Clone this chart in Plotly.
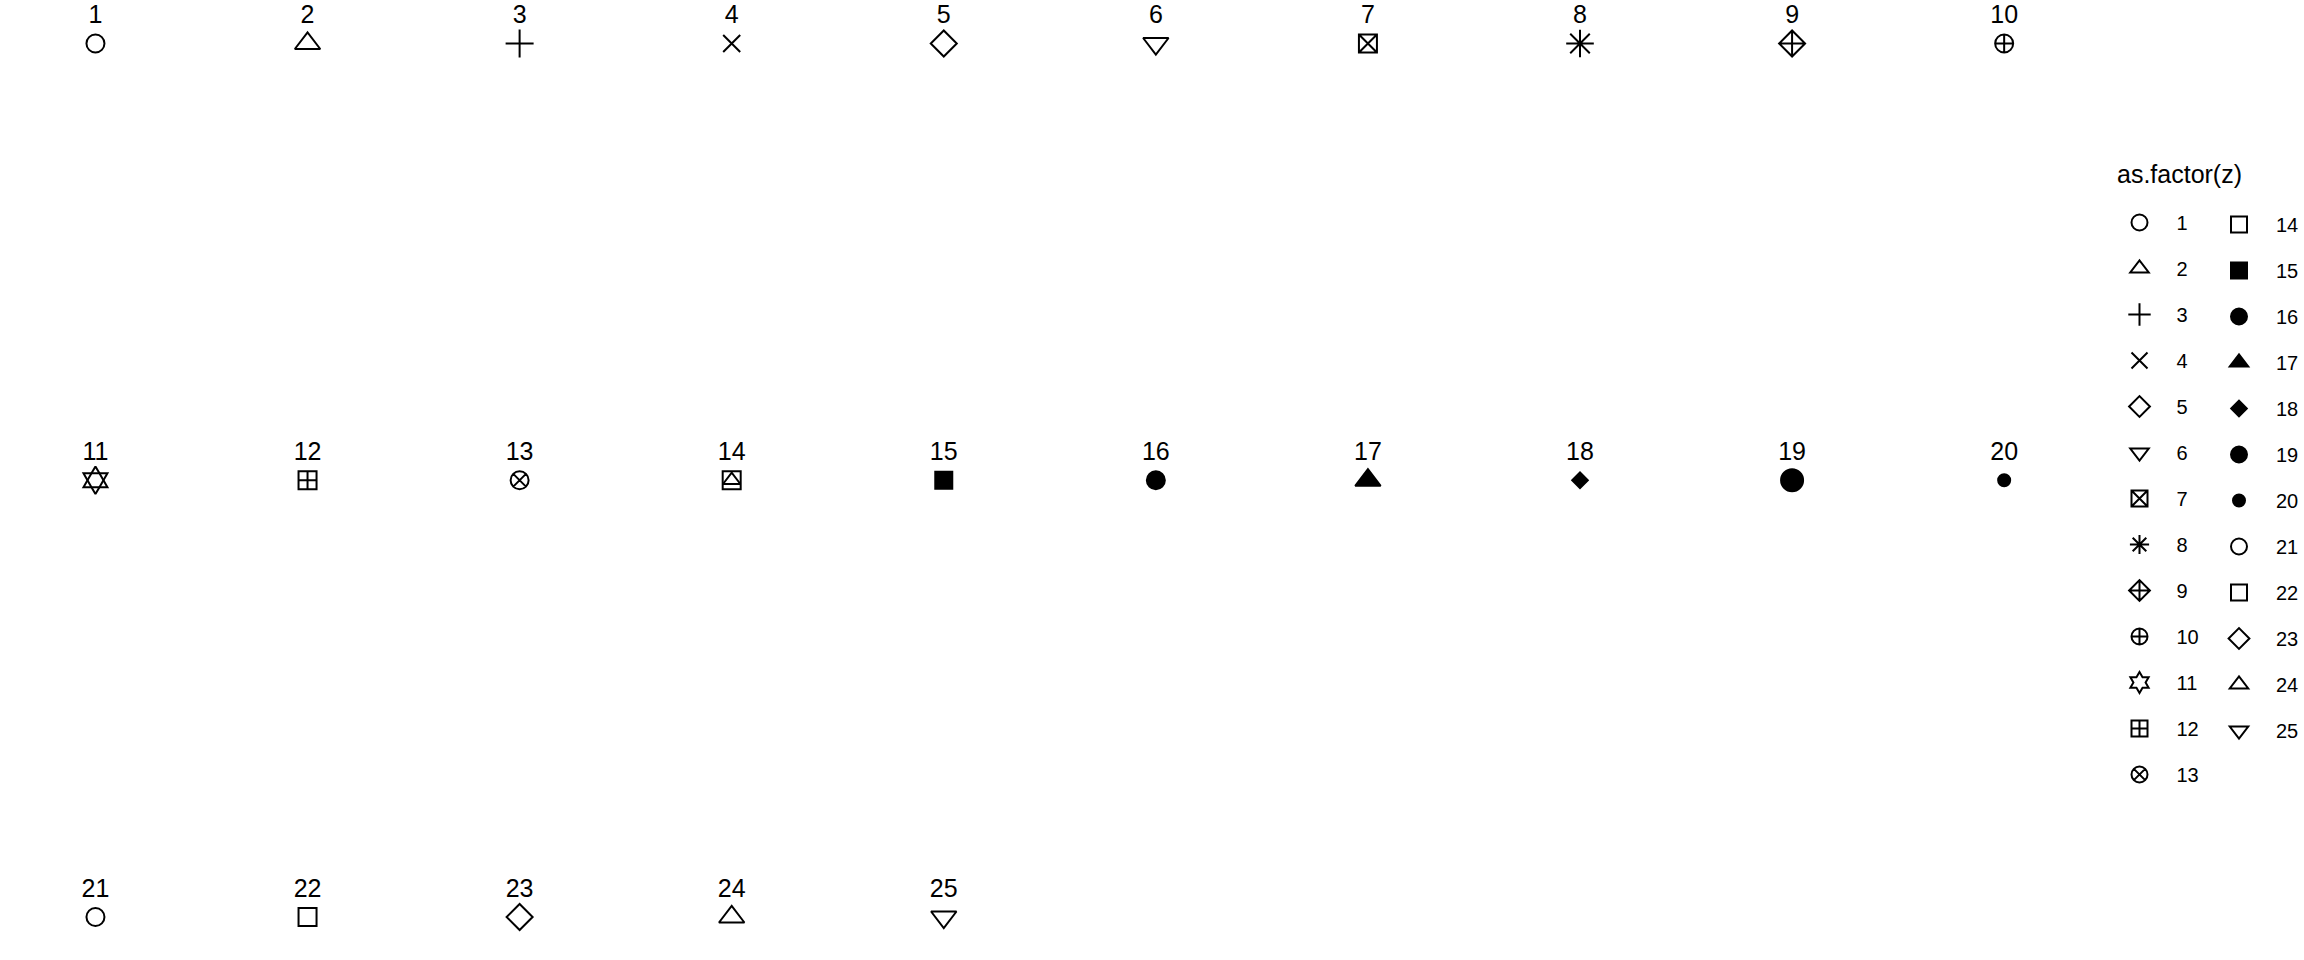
import plotly.graph_objects as go

# ---- data ----
shape_ids = list(range(1, 26))
grid_col = [0, 1, 2, 3, 4, 5, 6, 7, 8, 9,
            0, 1, 2, 3, 4, 5, 6, 7, 8, 9,
            0, 1, 2, 3, 4]
grid_row = [0, 0, 0, 0, 0, 0, 0, 0, 0, 0,
            -1, -1, -1, -1, -1, -1, -1, -1, -1, -1,
            -2, -2, -2, -2, -2]
point_labels = [str(z) for z in shape_ids]
legend_title = "as.factor(z)"

# ---- style: R pch -> plotly symbol, size ----
SYMBOL = {
    1: ("circle-open", 18), 2: ("triangle-up-open", 22), 3: ("cross-thin-open", 20),
    4: ("x-thin-open", 17), 5: ("diamond-open", 20), 6: ("triangle-down-open", 22),
    7: ("square-x-open", 18), 8: ("asterisk-open", 23), 9: ("diamond-cross-open", 20),
    10: ("circle-cross-open", 18), 11: ("hexagram-open", 21), 12: ("square-cross-open", 18),
    13: ("circle-x-open", 18), 14: ("square-open", 18), 15: ("square", 17),
    16: ("circle", 18), 17: ("triangle-up", 22), 18: ("diamond", 12),
    19: ("circle", 22), 20: ("circle", 12), 21: ("circle-open", 18),
    22: ("square-open", 18), 23: ("diamond-open", 20), 24: ("triangle-up-open", 22),
    25: ("triangle-down-open", 22),
}
# extra strokes to build composite R symbols in the panel
OVERLAY = {11: ("hexagon2-open", 21 * 0.76), 14: ("triangle-up-open", 15)}

FONT = "Liberation Sans, Arial, Helvetica, sans-serif"
LW = 2
LABEL_NUDGE = 0.061

fig = go.Figure()
for z, cx, cy in zip(shape_ids, grid_col, grid_row):
    sym, size = SYMBOL[z]
    fig.add_trace(go.Scatter(
        x=[cx], y=[cy], mode="markers", name=str(z),
        legend="legend" if z <= 13 else "legend2",
        legendgroup=str(z), cliponaxis=False,
        marker=dict(symbol=sym, size=size, color="black",
                    line=dict(color="black", width=LW)),
        hoverinfo="skip",
    ))
    if z in OVERLAY:
        osym, osize = OVERLAY[z]
        fig.add_trace(go.Scatter(
            x=[cx], y=[cy], mode="markers", showlegend=False,
            legendgroup=str(z), cliponaxis=False,
            marker=dict(symbol=osym, size=osize, color="black",
                        line=dict(color="black", width=LW)),
            hoverinfo="skip",
        ))

fig.add_trace(go.Scatter(
    x=grid_col, y=[r + LABEL_NUDGE for r in grid_row], mode="text",
    text=point_labels, textposition="middle center", cliponaxis=False,
    textfont=dict(family=FONT, size=25, color="black"),
    showlegend=False, hoverinfo="skip",
))

W, H = 2304, 960
ux, x_at0 = 212.17, 95.5
uy, y_at0 = 436.75, 43.5
x0 = -x_at0 / ux
x1 = x0 + W / ux
ytop = y_at0 / uy
ybot = ytop - H / uy

legend_common = dict(
    font=dict(family=FONT, size=20, color="black"),
    bgcolor="rgba(0,0,0,0)", borderwidth=0,
    tracegroupgap=17, itemwidth=64,
    xanchor="left", yanchor="top", orientation="v",
    itemclick=False, itemdoubleclick=False,
)

fig.update_layout(
    width=W, height=H, autosize=False,
    margin=dict(l=0, r=0, t=0, b=0),
    paper_bgcolor="white", plot_bgcolor="white",
    xaxis=dict(range=[x0, x1], visible=False, fixedrange=True),
    yaxis=dict(range=[ybot, ytop], visible=False, fixedrange=True),
    legend=dict(x=2102.5 / W, y=1 - 203 / H, **legend_common),
    legend2=dict(x=2203 / W, y=1 - 205 / H, **legend_common),
    annotations=[dict(
        text=legend_title, xref="paper", yref="paper",
        x=2116 / W, y=1 - 174 / H, xanchor="left", yanchor="middle",
        showarrow=False, font=dict(family=FONT, size=25, color="black"),
    )],
    showlegend=True,
)

fig.write_html("out.html", config={"displayModeBar": False})
